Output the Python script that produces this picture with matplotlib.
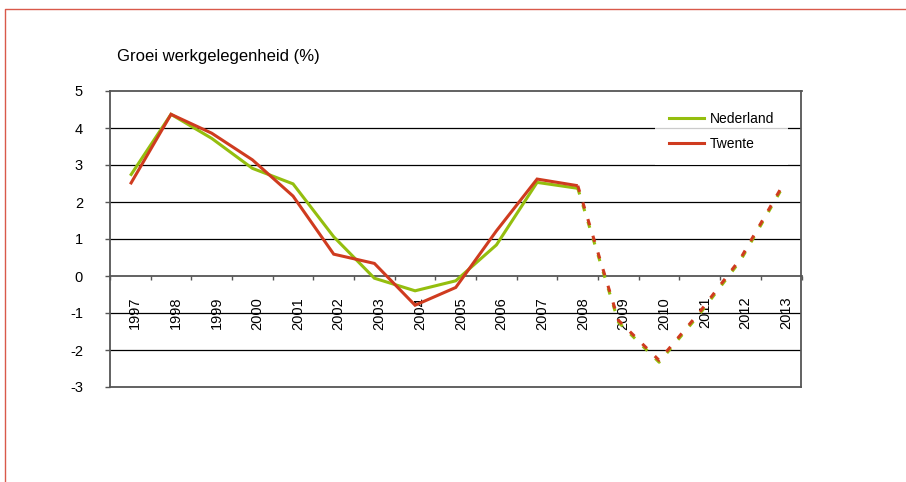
import matplotlib
matplotlib.use("Agg")
import matplotlib.pyplot as plt
import matplotlib.transforms as mtransforms
from matplotlib.lines import Line2D
import numpy as np

plt.rcParams['font.family'] = ['Liberation Sans', 'DejaVu Sans']

years = ['1997', '1998', '1999', '2000', '2001', '2002', '2003', '2004', '2005',
         '2006', '2007', '2008', '2009', '2010', '2011', '2012', '2013']
nederland = [2.71, 4.37, 3.72, 2.91, 2.49, 1.06, -0.06, -0.40, -0.13,
             0.84, 2.53, 2.37, -1.25, -2.33, -1.02, 0.42, 2.33]
twente = [2.48, 4.37, 3.86, 3.14, 2.16, 0.59, 0.34, -0.79, -0.31,
          1.22, 2.62, 2.44, -1.20, -2.28, -0.97, 0.47, 2.38]
forecast_from = '2008'
title = 'Groei werkgelegenheid (%)'
yticks = [-3, -2, -1, 0, 1, 2, 3, 4, 5]

green = '#94BE0E'
red = '#CF3B1F'

W, H = 906, 482
fig = plt.figure(figsize=(W / 100, H / 100), dpi=100)
ax = fig.add_axes([110 / W, 1 - 387 / H, 691.5 / W, 296 / H])

x = np.arange(len(years))
k = years.index(forecast_from)

lw = 2.2
for vals, col, z in [(nederland, green, 3), (twente, red, 4)]:
    ax.plot(x[:k + 1], vals[:k + 1], color=col, lw=lw, zorder=z,
            solid_joinstyle='miter', solid_capstyle='butt')
    ax.plot(x[k:], vals[k:], color=col, lw=lw, zorder=z,
            dashes=(2.1, 3.6), dash_capstyle='butt')

ax.set_xlim(-0.5, len(years) - 0.5)
ax.set_ylim(yticks[0], yticks[-1])

# gridlines
for yv in yticks[1:-1]:
    if yv != 0:
        ax.axhline(yv, color='black', lw=0.9, zorder=1)
ax.axhline(yticks[0], color='#555555', lw=1.3, zorder=2, clip_on=False)

for s in ['top', 'left', 'right']:
    ax.spines[s].set_color('#555555')
    ax.spines[s].set_linewidth(1.3)
ax.spines['bottom'].set_position(('data', 0))
ax.spines['bottom'].set_color('#555555')
ax.spines['bottom'].set_linewidth(1.3)

ax.set_yticks(yticks)
ax.set_yticklabels([str(v) for v in yticks])
ax.tick_params(axis='y', direction='out', length=3.6, width=1, color='#555555',
               pad=15.8, labelsize=10.5)

ax.set_xticks(np.arange(-0.5, len(years), 1.0))
ax.set_xticklabels([])
ax.tick_params(axis='x', which='major', direction='out', length=3, width=1,
               color='#555555')
ax.set_xticks(x, minor=True)
ax.set_xticklabels(years, minor=True, rotation=90, va='top', ha='center',
                   fontsize=10.5)
ax.tick_params(axis='x', which='minor', length=0, pad=15)
off = mtransforms.ScaledTranslation(5 / 100, 0, fig.dpi_scale_trans)
for lab in ax.xaxis.get_minorticklabels():
    lab.set_transform(lab.get_transform() + off)

fig.text(117 / W, 1 - 57 / H, title, fontsize=12, va='center', ha='left')

handles = [Line2D([], [], color=green, lw=lw), Line2D([], [], color=red, lw=lw)]
leg = ax.legend(handles, ['Nederland', 'Twente'], loc='upper left',
                bbox_to_anchor=(655 / W, 1 - 98 / H), bbox_transform=fig.transFigure,
                frameon=True, fancybox=False, fontsize=10, handlelength=2.5,
                handletextpad=0.45, labelspacing=0.8, borderpad=1.0,
                borderaxespad=0)
leg.get_frame().set_facecolor('white')
leg.get_frame().set_edgecolor('white')
leg.get_frame().set_linewidth(0)
leg.set_zorder(5)

# outer border (top and left)
fig.add_artist(Line2D([5 / W, 5 / W, 1.0], [0.0, 1 - 8.5 / H, 1 - 8.5 / H],
                      transform=fig.transFigure, color='#D9594A', lw=1.0))

fig.savefig('out.png', dpi=100)
